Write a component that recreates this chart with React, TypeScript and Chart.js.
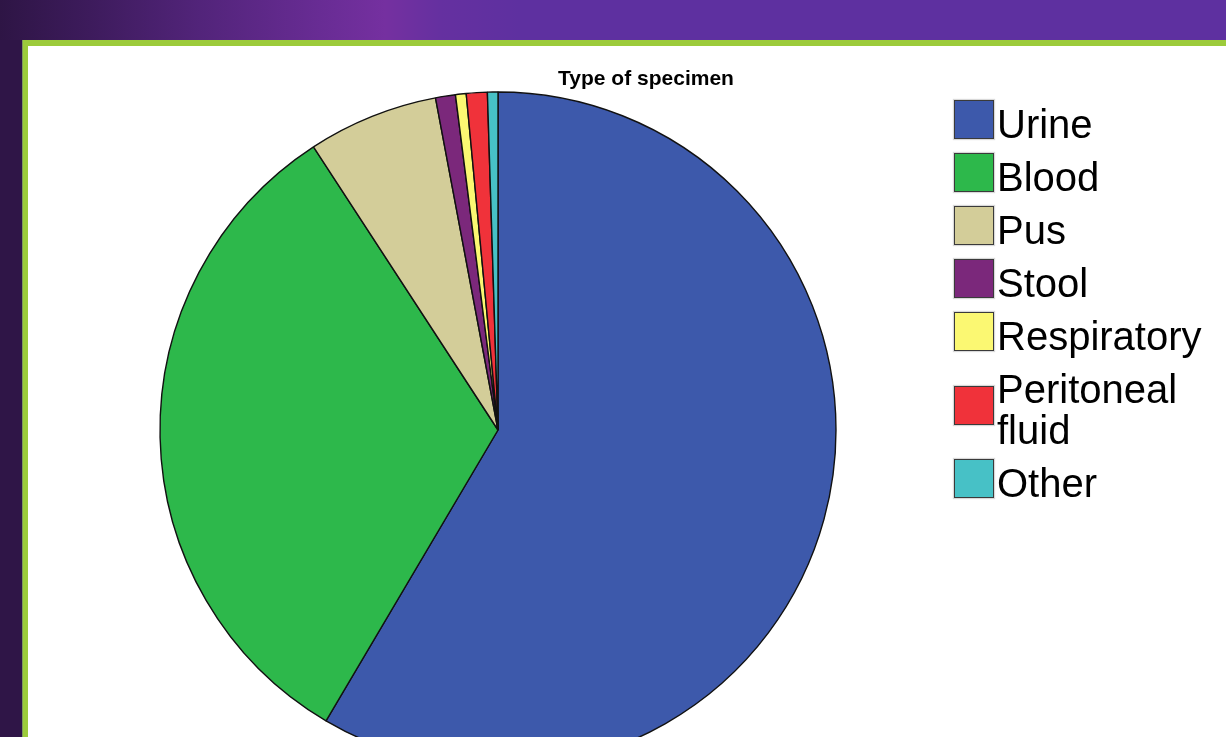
import React, { useEffect, useRef } from "react";
import { Chart, registerables } from "chart.js";

Chart.register(...registerables);

const chartTitle = "Type of specimen";
const categories = ["Urine", "Blood", "Pus", "Stool", "Respiratory", "Peritoneal fluid", "Other"];
const legendLines = [["Urine"], ["Blood"], ["Pus"], ["Stool"], ["Respiratory"], ["Peritoneal", "fluid"], ["Other"]];
const percentages = [58.49, 32.31, 6.23, 0.95, 0.51, 1.0, 0.5];
const sliceColors = ["#3d59ab", "#2db84b", "#d3cd99", "#7b287b", "#fbf872", "#f0323a", "#47c1c6"];

const FONT = '"Liberation Sans", Arial, "DejaVu Sans", sans-serif';

export default function App() {
  const canvasRef = useRef<HTMLCanvasElement | null>(null);

  useEffect(() => {
    if (!canvasRef.current) return;
    const chart = new Chart(canvasRef.current, {
      type: "pie",
      data: {
        labels: categories,
        datasets: [
          {
            data: percentages,
            backgroundColor: sliceColors,
            borderColor: "#111111",
            borderWidth: 1.4,
          },
        ],
      },
      options: {
        responsive: false,
        maintainAspectRatio: false,
        animation: false,
        radius: 338,
        layout: { padding: 0 },
        plugins: {
          legend: { display: false },
          title: { display: false },
          tooltip: { enabled: false },
        },
      } as any,
    });
    return () => chart.destroy();
  }, []);

  return (
    <div
      style={{
        position: "fixed",
        left: 0,
        top: 0,
        width: 1226,
        height: 737,
        overflow: "hidden",
        background: "#ffffff",
        fontFamily: FONT,
      }}
    >
      <div
        style={{
          position: "absolute",
          left: 0,
          top: 0,
          width: 1226,
          height: 40,
          background:
            "linear-gradient(to right, #2e1545 0px, #3d1b5c 90px, #52247a 200px, #682c94 320px, #7530a0 385px, #6530a0 440px, #5e30a0 520px, #5e30a0 1226px)",
        }}
      />
      <div style={{ position: "absolute", left: 0, top: 40, width: 22, height: 697, background: "#2f1547" }} />
      <div style={{ position: "absolute", left: 22, top: 40, width: 1204, height: 6, background: "#9ccb3b" }} />
      <div style={{ position: "absolute", left: 22, top: 40, width: 1, height: 697, background: "#7f9a5a" }} />
      <div style={{ position: "absolute", left: 23, top: 40, width: 5, height: 697, background: "#9ccb3b" }} />

      <canvas
        ref={canvasRef}
        width={938}
        height={768}
        style={{ position: "absolute", left: 29, top: 46, width: 938, height: 768, display: "block" }}
      />

      <div
        style={{
          position: "absolute",
          left: 546,
          top: 67,
          width: 200,
          textAlign: "center",
          fontWeight: "bold",
          fontSize: 21,
          lineHeight: "21px",
          color: "#000",
          whiteSpace: "nowrap",
        }}
      >
        {chartTitle}
      </div>

      <div
        style={{
          position: "absolute",
          left: 954,
          top: 104,
          display: "flex",
          flexDirection: "column",
          gap: 12,
        }}
      >
        {legendLines.map((lines, i) => (
          <div key={categories[i]} style={{ display: "flex", alignItems: "center" }}>
            <div
              style={{
                width: 38,
                height: 37,
                border: "1px solid #3a3a3a",
                background: sliceColors[i],
                boxShadow: "0 0 1px 1px rgba(0,0,0,0.15)",
                transform: "translateY(-5px)",
                flex: "0 0 auto",
              }}
            />
            <div
              style={{
                marginLeft: 3,
                fontSize: 40,
                lineHeight: "41px",
                color: "#000",
                whiteSpace: "nowrap",
              }}
            >
              {lines.map((l) => (
                <div key={l}>{l}</div>
              ))}
            </div>
          </div>
        ))}
      </div>
    </div>
  );
}
